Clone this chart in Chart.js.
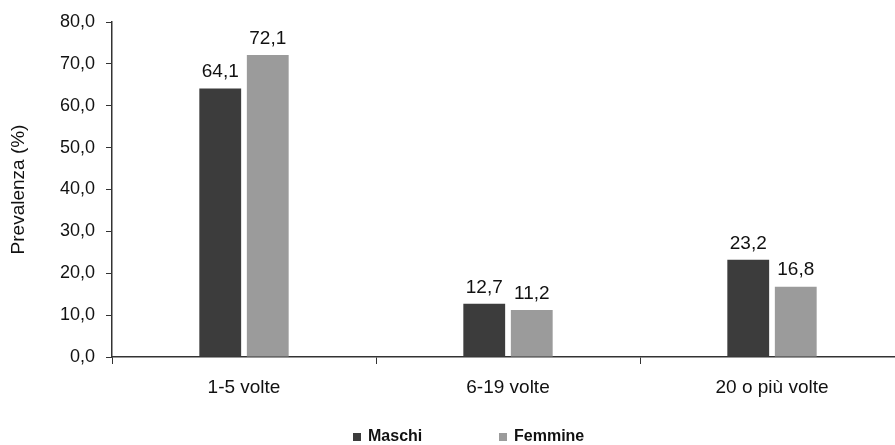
<!DOCTYPE html>
<html>
<head>
<meta charset="utf-8">
<script src="https://cdn.jsdelivr.net/npm/chart.js@4"></script>
<style>
  body { margin: 0; background: #fff; overflow: hidden; }
  #wrap { width: 910px; height: 445px; }
</style>
</head>
<body>
<div id="wrap"><canvas id="chart" width="910" height="445"></canvas></div>
<script>
const categories = ['1-5 volte', '6-19 volte', '20 o più volte'];
const maschi = [64.1, 12.7, 23.2];
const femmine = [72.1, 11.2, 16.8];
const yTicks = [0, 10, 20, 30, 40, 50, 60, 70, 80];

const fmt = v => v.toFixed(1).replace('.', ',');

// value labels above each bar
const barLabels = {
    id: 'barLabels',
    afterDatasetsDraw(chart) {
        const ctx = chart.ctx;
        ctx.save();
        ctx.font = '19px "Liberation Sans", Arial, sans-serif';
        ctx.fillStyle = '#111';
        ctx.textAlign = 'center';
        ctx.textBaseline = 'bottom';
        chart.data.datasets.forEach((ds, i) => {
            chart.getDatasetMeta(i).data.forEach((bar, j) => {
                ctx.fillText(fmt(ds.data[j]), bar.x, bar.y - 7);
            });
        });
        ctx.restore();
    }
};

// legend drawn below the axis labels
const bottomLegend = {
    id: 'bottomLegend',
    afterDraw(chart) {
        const ctx = chart.ctx;
        const xs = [353, 499];
        ctx.save();
        ctx.font = 'bold 16px "Liberation Sans", Arial, sans-serif';
        ctx.textBaseline = 'middle';
        chart.data.datasets.forEach((ds, i) => {
            ctx.fillStyle = ds.backgroundColor;
            ctx.fillRect(xs[i], 433, 8, 8);
            ctx.fillStyle = '#111';
            ctx.fillText(ds.label, xs[i] + 15, 437);
        });
        ctx.restore();
    }
};

new Chart(document.getElementById('chart'), {
    type: 'bar',
    data: {
        labels: categories,
        datasets: [
            { label: 'Maschi', data: maschi, backgroundColor: '#3c3c3c' },
            { label: 'Femmine', data: femmine, backgroundColor: '#9b9b9b' }
        ]
    },
    options: {
        responsive: false,
        animation: false,
        devicePixelRatio: 1,
        layout: { padding: { left: 0, right: 6, top: 22, bottom: 40 } },
        datasets: {
            bar: { categoryPercentage: 0.36, barPercentage: 0.88 }
        },
        plugins: {
            legend: { display: false },
            tooltip: { enabled: false }
        },
        scales: {
            x: {
                offset: true,
                grid: {
                    offset: true,
                    drawOnChartArea: false,
                    tickLength: 7,
                    color: '#333'
                },
                border: { display: true, color: '#333', width: 1.5 },
                ticks: {
                    padding: 12,
                    color: '#111',
                    font: { family: '"Liberation Sans", Arial, sans-serif', size: 19 }
                },
                afterFit(scale) { scale.height = 48; }
            },
            y: {
                min: 0,
                max: 80,
                afterBuildTicks(scale) {
                    scale.ticks = yTicks.map(v => ({ value: v }));
                },
                grid: {
                    drawOnChartArea: false,
                    tickLength: 6,
                    color: '#333'
                },
                border: { display: true, color: '#333', width: 1.5 },
                ticks: {
                    padding: 11,
                    color: '#111',
                    font: { family: '"Liberation Sans", Arial, sans-serif', size: 18 },
                    callback: v => fmt(v)
                },
                title: {
                    display: true,
                    text: 'Prevalenza (%)',
                    color: '#111',
                    padding: { top: 7, bottom: 0 },
                    font: { family: '"Liberation Sans", Arial, sans-serif', size: 19 }
                },
                afterFit(scale) { scale.width = 112; }
            }
        }
    },
    plugins: [barLabels, bottomLegend]
});
</script>
</body>
</html>
